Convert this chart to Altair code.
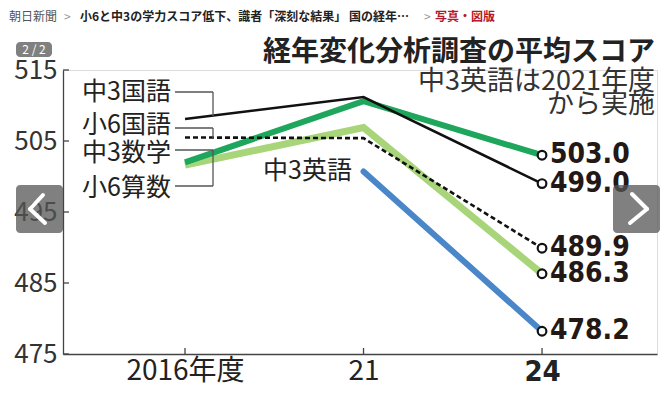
import json
import altair as alt
import pandas as pd

# ---- data ----
categories = ["2016年度", "21", "24"]
subject_names = ["中3国語", "小6国語", "中3数学", "小6算数", "中3英語"]
chu3_kokugo = [508.1, 511.2, 499.0]
sho6_kokugo = [505.5, 505.4, 489.9]
chu3_sugaku = [502.0, 510.6, 503.0]
sho6_sansu = [501.6, 506.9, 486.3]
chu3_eigo = [None, 500.7, 478.2]
y_ticks = [475, 485, 495, 505, 515]

series = dict(zip(subject_names, [chu3_kokugo, sho6_kokugo, chu3_sugaku, sho6_sansu, chu3_eigo]))
rows = []
for name, vals in series.items():
    for i, v in enumerate(vals):
        if v is not None:
            rows.append({"subject": name, "xi": i, "cat": categories[i], "value": v})
df = pd.DataFrame(rows)
last = df[df["xi"] == len(categories) - 1]

W, H = 594, 284
JP = "Noto Sans CJK JP"
NARROW = "DejaVu Sans Condensed, sans-serif"
INK = "#231815"

xscale = alt.Scale(domain=[-0.6835, 2.644], nice=False, zero=False)
yscale = alt.Scale(domain=[475, 515], nice=False, zero=False)

xaxis = alt.Axis(
    values=list(range(len(categories))),
    labelExpr=json.dumps(categories, ensure_ascii=False) + "[datum.value]",
    ticks=False, grid=False, title=None,
    domainColor="#444", domainWidth=1.3,
    labelColor="#222", labelPadding=3,
    labelFont={"condition": {"test": "datum.value == 2", "value": NARROW}, "value": JP},
    labelFontWeight={"condition": {"test": "datum.value == 2", "value": "bold"}, "value": "normal"},
    labelFontSize={"condition": {"test": "datum.value == 2", "value": 29}, "value": 28},
    labelBaseline="top",
)
yaxis = alt.Axis(
    values=y_ticks, ticks=False, grid=False, title=None,
    domainColor="#444", domainWidth=1.3,
    labelColor="#333", labelFont=JP, labelFontSize=26, labelPadding=6,
)

X = alt.X("xi:Q", scale=xscale, axis=xaxis)
Y = alt.Y("value:Q", scale=yscale, axis=yaxis)

def line(name, color, width, dash=None, cap="butt"):
    kw = dict(color=color, strokeWidth=width, strokeCap=cap)
    if dash:
        kw["strokeDash"] = dash
    return alt.Chart(df[df["subject"] == name]).mark_line(**kw).encode(x=X, y=Y)

lines = [
    line("小6算数", "#a8d47a", 7),
    line("中3英語", "#4a87c9", 6, cap="round"),
    line("中3数学", "#1ea65c", 6),
    line("小6国語", "#111111", 2.6, dash=[5, 3]),
    line("中3国語", "#111111", 2.6),
]

ytick_df = pd.DataFrame({"value": y_ticks})
yticks = alt.Chart(ytick_df).mark_rule(color="#444", strokeWidth=1.3).encode(
    y=Y, x=alt.value(0), x2=alt.value(6))
xtick_df = pd.DataFrame({"xi": list(range(len(categories)))})
xticks = alt.Chart(xtick_df).mark_rule(color="#444", strokeWidth=1.3).encode(
    x=X, y=alt.value(H), y2=alt.value(H - 6))

circles = alt.Chart(last).mark_point(
    shape="circle", filled=True, fill="white", stroke="#111", strokeWidth=2.2,
    size=75, opacity=1).encode(x=X, y=Y)
vlabels = alt.Chart(last).mark_text(
    align="left", baseline="middle", dx=8, font=NARROW, fontWeight="bold",
    fontSize=28, color=INK).encode(x=X, y=Y, text=alt.Text("value:Q", format=".1f"))

one = pd.DataFrame({"k": [0]})

def rule(x, y, x2, y2, color="#555", width=1.3, cap="butt"):
    return alt.Chart(one).mark_rule(color=color, strokeWidth=width, strokeCap=cap).encode(
        x=alt.value(x), y=alt.value(y), x2=alt.value(x2), y2=alt.value(y2))

def label(txt, x, y, **kw):
    return alt.Chart(one).mark_text(text=txt, **kw).encode(x=alt.value(x), y=alt.value(y))

def box(x, y, x2, y2):
    return alt.Chart(one).mark_rect(fill="#555", opacity=0.75, cornerRadius=4).encode(
        x=alt.value(x), y=alt.value(y), x2=alt.value(x2), y2=alt.value(y2))

# legend labels + connectors
leg_style = dict(font=JP, fontSize=25, color="#222", align="left", baseline="middle")
legend = [
    label("中3国語", 19, 22, **leg_style),
    label("小6国語", 19, 55, **leg_style),
    label("中3数学", 19, 83, **leg_style),
    label("小6算数", 19, 118, **leg_style),
    rule(112, 22, 150, 22), rule(150, 22, 150, 46),
    rule(112, 58, 150, 58), rule(150, 58, 150, 68),
    rule(112, 80, 150, 80),
    rule(112, 116, 150, 116), rule(150, 80, 150, 116),
    label("中3英語", 289, 101, font=JP, fontSize=25, color="#222", align="right", baseline="middle"),
]

titles = [
    label("経年変化分析調査の平均スコア", 592, -17, font=JP, fontSize=28, fontWeight="bold",
          color="#222", align="right", baseline="middle"),
    label("中3英語は2021年度", 592, 12, font=JP, fontSize=27, color="#333",
          align="right", baseline="middle"),
    label("から実施", 592, 35, font=JP, fontSize=27, color="#333",
          align="right", baseline="middle"),
]

crumb_style = dict(font=JP, fontSize=12, baseline="middle", align="left")
crumbs = [
    label("朝日新聞", -54, -53, color="#555", **crumb_style),
    label(">", 1, -53, color="#999", **crumb_style),
    label("小6と中3の学力スコア低下、識者「深刻な結果」 国の経年…", 17, -53,
          color="#222", fontWeight="bold", **crumb_style),
    label(">", 361, -53, color="#999", **crumb_style),
    label("写真・図版", 372, -53, color="#b5182a", fontWeight="bold", **crumb_style),
]

# gallery overlay
overlay = [
    box(-47, -28, -11, -13),
    label("2 / 2", -29, -20.5, font=JP, fontSize=12, color="white", align="center", baseline="middle"),
    box(-47, 115, 0, 163),
    rule(-20, 125, -33, 139, color="white", width=4, cap="round"),
    rule(-33, 139, -18, 153, color="white", width=4, cap="round"),
    box(550, 115, 597, 163),
    rule(569, 124, 584, 139, color="white", width=4, cap="round"),
    rule(584, 139, 567, 153, color="white", width=4, cap="round"),
]

chart = alt.layer(
    *lines, yticks, xticks, circles, vlabels, *legend, *titles, *crumbs, *overlay
).properties(
    width=W, height=H,
    padding={"left": 55, "top": 62, "right": 5, "bottom": 35},
    autosize=alt.AutoSizeParams(type="none"),
).configure_view(stroke=None).configure(background="white")

chart.save("out.html", embed_options={"renderer": "svg", "actions": False})
